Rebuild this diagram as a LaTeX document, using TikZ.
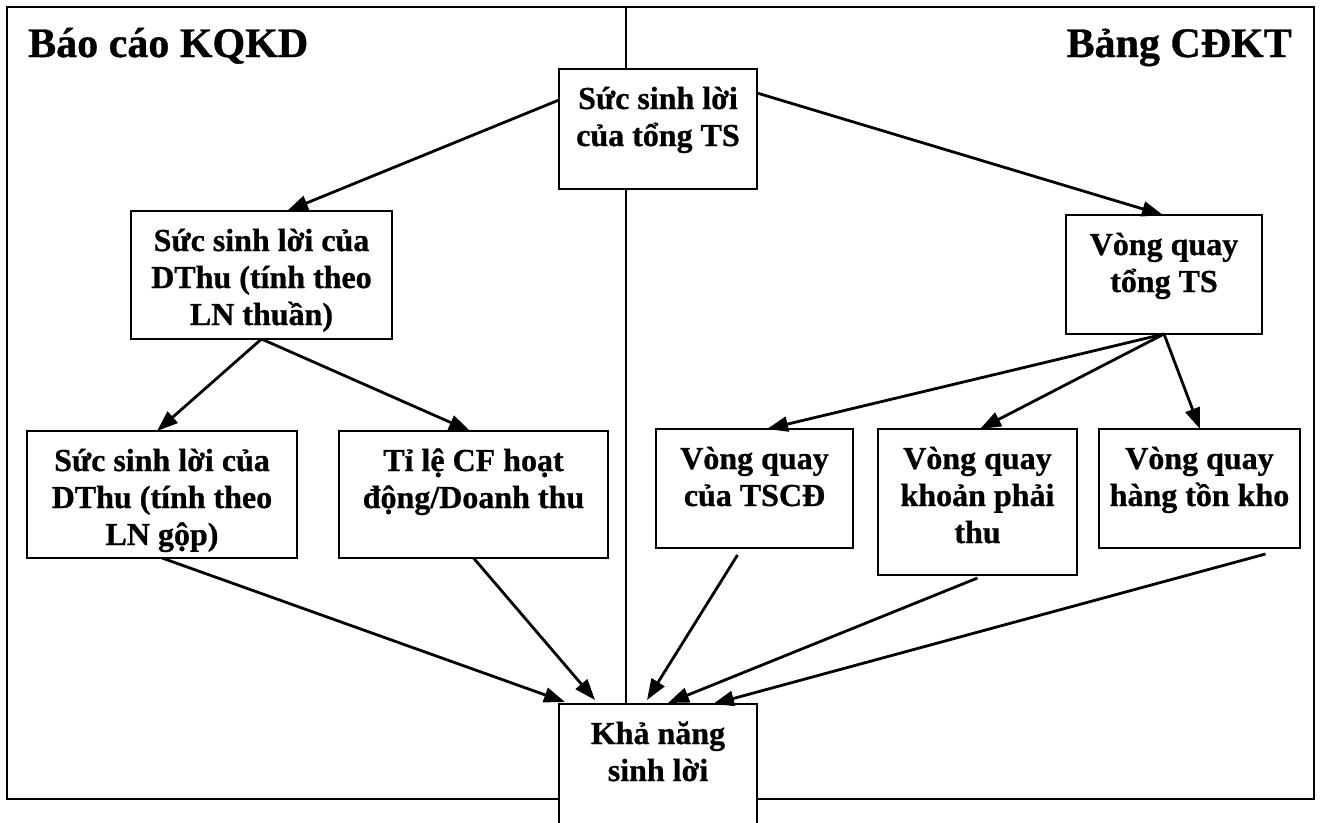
\documentclass[tikz,border=0pt]{standalone}
\usepackage{fontspec}
\setmainfont{Liberation Serif}[BoldFeatures={FakeBold=0.8}]
\usetikzlibrary{arrows.meta,calc}

% box contents: width, height, lines (top aligned, centred)
\newcommand\celltext[3]{\parbox[c][#2][t]{#1}{\centering\fontsize{32}{37}\selectfont\bfseries\rule{0pt}{40pt}#3}}

\begin{document}
\begin{tikzpicture}[x=1pt,y=-1pt,
  cell/.style={draw, line width=2.4pt, fill=white, inner sep=0pt, outer sep=0pt},
  arr/.style={line width=2.8pt, -{Triangle[length=21pt,width=15pt]}},
  rule line/.style={line width=2.4pt},
  heading/.style={inner sep=0pt, font=\fontsize{42}{48}\selectfont\bfseries}]
\useasboundingbox (0,0) rectangle (1322,822);
\clip (0,0) rectangle (1322,822);

% outer frame
\draw[rule line] (7,7) rectangle (1314,799);

% headings
\node[heading, anchor=base west] (kqkd) at (28,57) {Báo cáo KQKD};
\node[heading, anchor=base east] (cdkt) at (1292,57) {Bảng CĐKT};

% boxes
\node[cell] (top)   at (658,129)   {\celltext{198pt}{120pt}{Sức sinh lời\\của tổng TS}};
\node[cell] (thuan) at (261.5,275) {\celltext{261pt}{128pt}{Sức sinh lời của\\DThu (tính theo\\LN thuần)}};
\node[cell] (tong)  at (1164,274.5){\celltext{196pt}{119pt}{Vòng quay\\tổng TS}};
\node[cell] (gop)   at (162,494.5) {\celltext{270pt}{127pt}{Sức sinh lời của\\DThu (tính theo\\LN gộp)}};
\node[cell] (cf)    at (473.5,494.5){\celltext{269pt}{127pt}{Tỉ lệ CF hoạt\\động/Doanh thu}};
\node[cell] (tscd)  at (754.5,488.5){\celltext{197pt}{119pt}{Vòng quay\\của TSCĐ}};
\node[cell] (kpt)   at (977.5,502) {\celltext{199pt}{146pt}{Vòng quay\\khoản phải\\thu}};
\node[cell] (htk)   at (1199.5,488.5){\celltext{201pt}{119pt}{Vòng quay\\hàng tồn kho}};
\node[cell] (kn)    at (658,774)   {\celltext{198pt}{140pt}{Khả năng\\sinh lời}};

% divider between the two statements
\coordinate (divtop) at (626,7);
\draw[rule line] (divtop) -- (divtop |- top.north);
\draw[rule line] (divtop |- top.south) -- (divtop |- kn.north);

% connectors
\draw[arr] ($(top.north west)+(0,31)$) -- ($(thuan.north west)+(156,0)$);
\draw[arr] ($(top.north east)+(0,24)$) -- ($(tong.north west)+(97,0)$);
\draw[arr] (thuan.south) -- ($(gop.north west)+(130,0)$);
\draw[arr] (thuan.south) -- ($(cf.north west)+(131,0)$);
\draw[arr] (tong.south) -- ($(tscd.north west)+(111,0)$);
\draw[arr] (tong.south) -- ($(kpt.north west)+(102,0)$);
\draw[arr] (tong.south) -- ($(htk.north west)+(101,0)$);
\draw[arr] (gop.south) -- ($(kn.north west)+(6,-2)$);
\draw[arr] (cf.south) -- ($(kn.north west)+(36,-4)$);
\draw[arr] ($(tscd.south)+(-17,7)$) -- ($(kn.north west)+(88,-4)$);
\draw[arr] ($(kpt.south)+(0,3)$) -- ($(kn.north west)+(109,-1)$);
\draw[arr] ($(htk.south)+(66,6)$) -- ($(kn.north west)+(154,0)$);
\end{tikzpicture}
\end{document}
